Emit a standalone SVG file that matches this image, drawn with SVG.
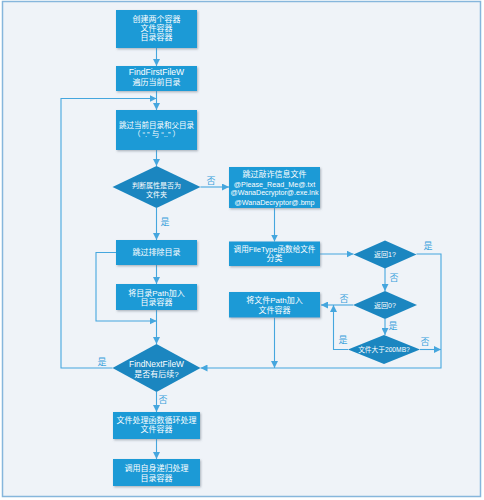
<svg xmlns="http://www.w3.org/2000/svg" width="484" height="500" viewBox="0 0 484 500">
<defs>
<style>
.frame{fill:#eff3f8;stroke:#86b6dc;stroke-width:1.5}
.box{fill:#1c9ad6;filter:url(#sh)}
.dia{fill:#1b86c0}
.t{fill:#ffffff;font-family:"Liberation Sans","Noto Sans CJK SC",sans-serif;font-size:8px;text-anchor:middle;dominant-baseline:central}
.lbl{fill:#3ba2dc;font-family:"Noto Sans CJK SC","Liberation Sans",sans-serif;font-size:9px;text-anchor:middle;dominant-baseline:central}
.c{fill:none;stroke:#45a6de;stroke-width:1.1}
.a{marker-end:url(#ar)}
</style>
<filter id="sh" x="-10%" y="-10%" width="130%" height="140%">
<feDropShadow dx="1" dy="1.2" stdDeviation="0.8" flood-color="#6f7c88" flood-opacity="0.55"/>
</filter>
<marker id="ar" markerUnits="userSpaceOnUse" markerWidth="7" markerHeight="7" refX="7" refY="3.5" orient="auto">
<path d="M0,0 L7,3.5 L0,7 z" fill="#45a6de"/>
</marker>
</defs>
<rect class="frame" x="2.5" y="1.5" width="478" height="495"/>

<g id="connectors">
<path class="c a" d="M156.5,48 V66"/>
<path class="c a" d="M156.5,91 V110"/>
<path class="c a" d="M112.5,368 H61 V98.5 H156.5"/>
<path class="c a" d="M156.5,150 V166"/>
<path class="c a" d="M200.5,187 H229"/>
<path class="c a" d="M156.5,208 V240"/>
<path class="c a" d="M156.5,265 V284"/>
<path class="c a" d="M116,252.5 H96 V321 H156.5"/>
<path class="c a" d="M156.5,310 V344"/>
<path class="c a" d="M156.5,392 V412"/>
<path class="c a" d="M156.5,439 V459"/>
<path class="c a" d="M274.5,208 V241.5"/>
<path class="c a" d="M320,254 H353.5"/>
<path class="c a" d="M416.5,254 H441 V368 H200.5"/>
<path class="c a" d="M385,268 V291"/>
<path class="c a" d="M353,305 H321"/>
<path class="c a" d="M274.5,317.5 V368"/>
<path class="c a" d="M385,319 V335"/>
<path class="c a" d="M348,349.5 H333.5 V305"/>
<path class="c a" d="M420,349.5 H441"/>
<text class="lbl" x="211" y="180">否</text>
<text class="lbl" x="165" y="221">是</text>
<text class="lbl" x="102" y="361">是</text>
<text class="lbl" x="163" y="399">否</text>
<text class="lbl" x="428" y="245">是</text>
<text class="lbl" x="394" y="277">否</text>
<text class="lbl" x="344" y="298">否</text>
<text class="lbl" x="393" y="325">是</text>
<text class="lbl" x="343" y="339">是</text>
<text class="lbl" x="425" y="341">否</text>
</g>

<g id="n1"><rect class="box" x="116" y="10" width="81" height="38"/>
<text class="t" x="156.5" y="19.5">创建两个容器</text><text class="t" x="156.5" y="28.5">文件容器</text><text class="t" x="156.5" y="37.5">目录容器</text></g>

<g id="n2"><rect class="box" x="116" y="66" width="81" height="25"/>
<text class="t" x="156.5" y="71.8" style="font-size:8.6px">FindFirstFileW</text><text class="t" x="156.5" y="82">遍历当前目录</text></g>

<g id="n3"><rect class="box" x="116" y="110" width="81" height="40"/>
<text class="t" x="156.5" y="125.5" style="font-size:7.5px">跳过当前目录和父目录</text><text class="t" x="156.5" y="134.5" style="font-size:7.5px">（ “.” 与 “..” ）</text></g>

<g id="n4"><polygon class="dia" points="156.5,166 200.5,187 156.5,208 112.5,187"/>
<text class="t" x="156.5" y="185.5" style="font-size:7px">判断属性是否为</text><text class="t" x="156.5" y="194.5" style="font-size:7px">文件夹</text></g>

<g id="n5"><rect class="box" x="229" y="167" width="91" height="41"/>
<text class="t" x="274.5" y="174.5">跳过敲诈信息文件</text>
<text class="t" x="274.5" y="184" style="font-size:7.2px">@Please_Read_Me@.txt</text>
<text class="t" x="274.5" y="193.3" style="font-size:7.1px">@WanaDecryptor@.exe.lnk</text>
<text class="t" x="274.5" y="202.5" style="font-size:7.2px">@WanaDecryptor@.bmp</text></g>

<g id="n6"><rect class="box" x="116" y="240" width="81" height="25"/>
<text class="t" x="156.5" y="252.5">跳过排除目录</text></g>

<g id="n7"><rect class="box" x="229" y="241.5" width="91" height="24.5"/>
<text class="t" x="274.5" y="249.5" style="font-size:7.6px">调用FileType函数给文件</text><text class="t" x="274.5" y="258.5">分类</text></g>

<g id="n8"><polygon class="dia" points="385,240.5 416.5,254.5 385,268.5 353.5,254.5"/>
<text class="t" x="385" y="254.5" style="font-size:7px">返回1?</text></g>

<g id="n9"><rect class="box" x="116" y="284" width="81" height="26"/>
<text class="t" x="156.5" y="293.2">将目录Path加入</text><text class="t" x="156.5" y="302.5">目录容器</text></g>

<g id="n10"><rect class="box" x="229" y="292" width="91" height="25.5"/>
<text class="t" x="274.5" y="300.5">将文件Path加入</text><text class="t" x="274.5" y="310">文件容器</text></g>

<g id="n11"><polygon class="dia" points="385,291 417,305 385,319 353,305"/>
<text class="t" x="385" y="305" style="font-size:7px">返回0?</text></g>

<g id="n12"><polygon class="dia" points="384,335 420,349.5 384,364 348,349.5"/>
<text class="t" x="384" y="349.5" style="font-size:6.7px">文件大于200MB?</text></g>

<g id="n13"><polygon class="dia" points="156.5,344 200.5,368 156.5,392 112.5,368"/>
<text class="t" x="156.5" y="364.3" style="font-size:8.4px">FindNextFileW</text><text class="t" x="156.5" y="374.5">是否有后续?</text></g>

<g id="n14"><rect class="box" x="113" y="412" width="87" height="27"/>
<text class="t" x="156.5" y="420.5">文件处理函数循环处理</text><text class="t" x="156.5" y="429.5">文件容器</text></g>

<g id="n15"><rect class="box" x="113" y="459" width="87" height="27"/>
<text class="t" x="156.5" y="468.5">调用自身递归处理</text><text class="t" x="156.5" y="478.5">目录容器</text></g>
</svg>
